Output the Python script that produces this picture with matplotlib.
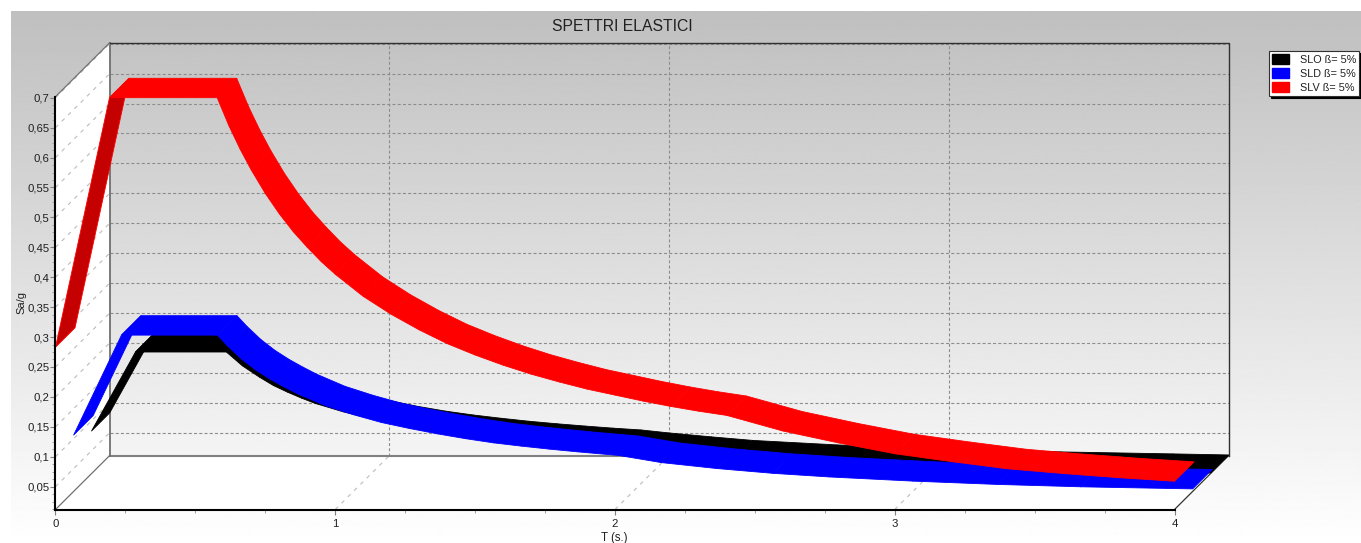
import numpy as np
import matplotlib
matplotlib.use("Agg")
import matplotlib.pyplot as plt
from matplotlib.patches import Polygon, Patch

plt.rcParams['font.family'] = ['Liberation Sans', 'DejaVu Sans']

TITLE = "SPETTRI ELASTICI"
X_LABEL = "T (s.)"
Y_LABEL = "Sa/g"
SERIES_NAMES = ["SLO ß= 5%", "SLD ß= 5%", "SLV ß= 5%"]
SERIES_COLORS = ["#000000", "#0000ff", "#ff0000"]
RISE_COLORS = ["#000000", "#0000ff", "#c40000"]
X_TICKS = [0, 1, 2, 3, 4]
Y_TICKS = [0.05, 0.1, 0.15, 0.2, 0.25, 0.3, 0.35, 0.4, 0.45, 0.5, 0.55, 0.6, 0.65, 0.7]
Y_TICK_LABELS = ["0,05", "0,1", "0,15", "0,2", "0,25", "0,3", "0,35", "0,4",
                 "0,45", "0,5", "0,55", "0,6", "0,65", "0,7"]

T_SLO = [0, 0.157, 0.482, 0.539, 0.6, 0.65, 0.7, 0.75, 0.8, 0.9, 1.0, 1.1, 1.2, 1.3, 1.4, 1.5,
         1.6, 1.7, 1.8, 1.9, 2.0, 2.15, 2.3, 2.6, 3.0, 3.4, 3.8, 4.0]
V_SLO = [0.083, 0.215, 0.215, 0.192, 0.173, 0.159, 0.148, 0.138, 0.129, 0.115, 0.1036, 0.094,
         0.086, 0.0795, 0.074, 0.069, 0.0648, 0.061, 0.0575, 0.0545, 0.0495, 0.043, 0.037,
         0.0295, 0.0226, 0.0178, 0.0145, 0.0127]

T_SLD = [0, 0.171, 0.514, 0.55, 0.6, 0.65, 0.7, 0.75, 0.8, 0.9, 1.0, 1.1, 1.2, 1.3, 1.4, 1.5,
         1.6, 1.7, 1.8, 1.95, 2.1, 2.3, 2.5, 2.7, 3.0, 3.3, 3.6, 4.0]
V_SLD = [0.106, 0.273, 0.273, 0.255, 0.233, 0.215, 0.2, 0.187, 0.175, 0.155, 0.14, 0.127,
         0.117, 0.108, 0.1, 0.093, 0.0875, 0.0825, 0.078, 0.0718, 0.06, 0.05, 0.042, 0.036,
         0.029, 0.0235, 0.0195, 0.016]

T_SLV = [0, 0.193, 0.578, 0.62, 0.66, 0.7, 0.75, 0.8, 0.85, 0.9, 0.95, 1.0, 1.1, 1.2, 1.3, 1.4,
         1.5, 1.6, 1.7, 1.8, 1.9, 2.0, 2.1, 2.2, 2.3, 2.4, 2.6, 2.8, 3.0, 3.2, 3.4, 3.6, 3.8, 4.0]
V_SLV = [0.283, 0.70, 0.70, 0.653, 0.614, 0.579, 0.54, 0.506, 0.476, 0.45, 0.426, 0.405, 0.368,
         0.338, 0.312, 0.289, 0.27, 0.253, 0.238, 0.225, 0.213, 0.203, 0.193, 0.184, 0.176,
         0.169, 0.143, 0.123, 0.105, 0.092, 0.08, 0.072, 0.065, 0.059]

SERIES_T = [T_SLO, T_SLD, T_SLV]
SERIES_V = [V_SLO, V_SLD, V_SLV]
SERIES_DEPTH = [(0.665, 1.0), (0.335, 0.695), (0.0, 0.36)]

W, H = 1361, 543
fig = plt.figure(figsize=(W / 100, H / 100), dpi=100, facecolor="white")

# background panel with vertical gradient
bg = fig.add_axes([0, 0, 1, 1], zorder=0)
bg.axis("off")
grad = np.linspace(0.75, 1.0, 256).reshape(-1, 1)
bg.imshow(grad, cmap="gray", vmin=0, vmax=1, extent=(11, W, H, 11), aspect="auto",
          interpolation="bilinear")
bg.set_xlim(0, W)
bg.set_ylim(H, 0)

# the front plane of the 3D box is the main axes
ax = fig.add_axes([55.5 / W, 1 - 509.5 / H, 1119 / W, (509.5 - 96.7) / H], zorder=1)
ax.patch.set_alpha(0)
y0, y1 = 0.0118, 0.7017
x0, x1 = 0, 4
ax.set_xlim(x0, x1)
ax.set_ylim(y0, y1)
DX = 54.2 / 279.75   # box depth in T units
DY = 54.0 / 598.4    # box depth in value units


def back(x, y, f=1.0):
    return x + DX * f, y + DY * f


# walls
ax.add_patch(Polygon([(x0, y0), back(x0, y0), back(x0, y1), (x0, y1)], fc="white", ec="none",
                     clip_on=False, zorder=1))
ax.add_patch(Polygon([(x0, y0), (x1, y0), back(x1, y0), back(x0, y0)], fc="white", ec="none",
                     clip_on=False, zorder=1))

# grid
grid_c = "#8c8c8c"
side_c = "#bcbcbc"
dash = (0, (2.7, 2.0))
side_dash = (0, (3.5, 4.5))
for v in Y_TICKS:
    bx, by = back(x0, v)
    ax.plot([bx, x1 + DX], [by, by], color=grid_c, lw=0.8, ls=dash, clip_on=False, zorder=2)
    ax.plot([x0, bx], [v, by], color=side_c, lw=0.8, ls=side_dash, clip_on=False, zorder=2)
for t in X_TICKS[1:-1]:
    bx, by = back(t, y0)
    ax.plot([bx, bx], [by, y1 + DY], color=grid_c, lw=0.8, ls=dash, clip_on=False, zorder=2)
    ax.plot([t, bx], [y0, by], color=side_c, lw=0.8, ls=side_dash, clip_on=False, zorder=2)

# box frame
bxl, byb = back(x0, y0)
bxr, byt = back(x1, y1)
ax.plot([bxl, bxr], [byb, byb], color="#808080", lw=1.5, clip_on=False, zorder=3)
ax.plot([bxl, bxl], [byb, byt], color="#707070", lw=1.3, clip_on=False, zorder=3)
ax.plot([bxl, bxr, bxr], [byt, byt, byb], color="#303030", lw=1.0, clip_on=False, zorder=3)
ax.plot([x0, bxl], [y1, byt], color="#707070", lw=0.9, clip_on=False, zorder=3)
ax.plot([x0, bxl], [y0, byb], color="#707070", lw=0.9, clip_on=False, zorder=3)
ax.plot([x1, bxr], [y0, byb], color="#303030", lw=0.9, clip_on=False, zorder=3)

# ribbons, back series first
for k, (ts, vs) in enumerate(zip(SERIES_T, SERIES_V)):
    f0, f1 = SERIES_DEPTH[k]
    z = 4 + k
    for i in range(len(ts) - 1):
        a, b = (ts[i], vs[i]), (ts[i + 1], vs[i + 1])
        pts = [back(*a, f0), back(*b, f0), back(*b, f1), back(*a, f1)]
        rising = vs[i + 1] > vs[i]
        fc = RISE_COLORS[k] if rising else SERIES_COLORS[k]
        ax.add_patch(Polygon(pts, fc=fc, ec=SERIES_COLORS[k], lw=0.6, clip_on=False,
                             zorder=z, joinstyle="round"))

# axes
for s in ("top", "right"):
    ax.spines[s].set_visible(False)
for s in ("left", "bottom"):
    ax.spines[s].set_color("black")
    ax.spines[s].set_linewidth(1.5)
    ax.spines[s].set_zorder(9)
ax.set_xticks(X_TICKS)
ax.set_xticklabels([str(t) for t in X_TICKS])
ax.set_yticks(Y_TICKS)
ax.set_yticklabels(Y_TICK_LABELS)
ax.set_xticks(np.arange(0, 4.01, 0.25), minor=True)
ax.set_yticks(np.arange(0.0125, 0.7, 0.0125), minor=True)
ax.tick_params(axis="both", which="major", length=3.5, width=0.8, color="#808080",
               labelsize=8.2, labelcolor="#202020", pad=1.0)
ax.tick_params(axis="both", which="minor", length=2, width=0.7, color="#a0a0a0")
ax.tick_params(axis="x", which="major", pad=3.2)

fig.text(622.5 / W, 1 - 26.5 / H, TITLE, ha="center", va="center", fontsize=11.3, color="#202020")
fig.text(614 / W, 1 - 537.5 / H, X_LABEL, ha="center", va="center", fontsize=8.3, color="#202020")
fig.text(21.5 / W, 1 - 302 / H, Y_LABEL, ha="center", va="center", rotation=90, fontsize=8.0,
         color="#202020")

# legend
handles = [Patch(fc=c, ec=c) for c in SERIES_COLORS]
leg = fig.legend(handles, SERIES_NAMES, loc="upper left",
                 bbox_to_anchor=(1269 / W, 1 - 50.5 / H), borderaxespad=0, frameon=True,
                 fancybox=False, edgecolor="#303030", facecolor="white", framealpha=1,
                 shadow={"color": "black", "alpha": 1, "ox": 1.5, "oy": -1.5},
                 fontsize=7.8, labelcolor="#202020", handlelength=1.5, handleheight=1.0,
                 handletextpad=1.0, labelspacing=0.33, borderpad=0.32)
leg.get_frame().set_linewidth(0.8)

fig.savefig("out.png", dpi=100, facecolor="white")
